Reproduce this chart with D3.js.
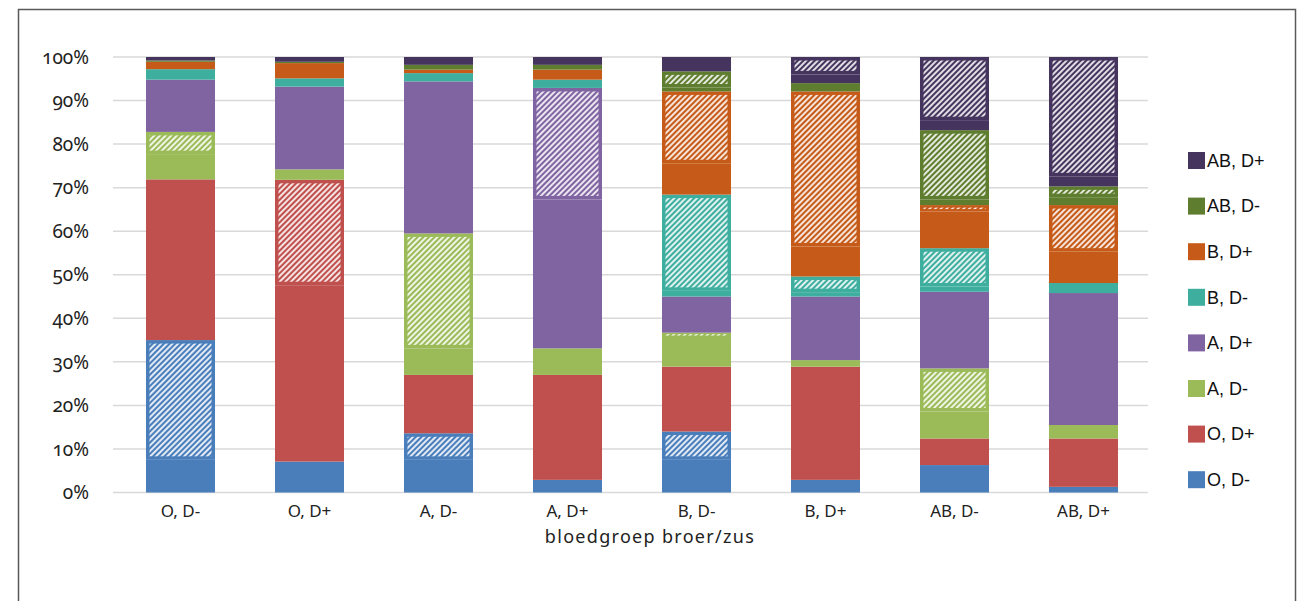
<!DOCTYPE html>
<html>
<head>
<meta charset="utf-8">
<script src="https://cdn.jsdelivr.net/npm/d3@7"></script>
<style>
  html, body { margin: 0; padding: 0; background: #fff; }
  svg { display: block; }
  .tick-label { font-family: "Noto Sans", "Open Sans", sans-serif; font-variant-numeric: oldstyle-nums; font-feature-settings: "onum" 1; fill: #222; }
  .cat-label, .axis-title { font-family: "Noto Sans", "Open Sans", sans-serif; fill: #222; }
  .legend-label { font-family: "Liberation Sans", Arial, sans-serif; fill: #111; }
</style>
</head>
<body>
<script>
// Blood group of the sibling (x axis categories)
const categories = ["O, D-", "O, D+", "A, D-", "A, D+", "B, D-", "B, D+", "AB, D-", "AB, D+"];

// Blood group series, bottom to top of each stack
const groups = ["O, D-", "O, D+", "A, D-", "A, D+", "B, D-", "B, D+", "AB, D-", "AB, D+"];
const groupColors = ["#4a7ebb", "#c0504d", "#9bbb59", "#8064a2", "#3eae9f", "#c65b19", "#5f7d2f", "#45355e"];

// Percentage per sibling category: plain part and hatched part of each group
const oNegPlain     = [7.5, 7.1, 7.5, 2.9, 7.5, 2.9, 6.3, 1.3];
const oNegHatched   = [27.5, 0, 6.1, 0, 6.5, 0, 0, 0];
const oPosPlain     = [36.9, 40.5, 13.4, 24.1, 14.9, 26.0, 6.1, 11.1];
const oPosHatched   = [0, 24.2, 0, 0, 0, 0, 0, 0];
const aNegPlain     = [5.8, 2.4, 6.1, 6.1, 6.8, 1.5, 6.2, 3.1];
const aNegHatched   = [5.1, 0, 26.4, 0, 1.0, 0, 9.9, 0];
const aPosPlain     = [12.0, 19.0, 34.9, 34.2, 8.3, 14.6, 17.6, 30.3];
const aPosHatched   = [0, 0, 0, 25.6, 0, 0, 0, 0];
const bNegPlain     = [2.4, 1.9, 1.9, 1.9, 1.3, 1.0, 1.2, 2.3];
const bNegHatched   = [0, 0, 0, 0, 22.1, 3.6, 8.8, 0];
const bPosPlain     = [1.7, 3.5, 0.8, 2.3, 7.2, 6.9, 8.4, 7.2];
const bPosHatched   = [0, 0, 0, 0, 16.5, 35.6, 1.5, 10.7];
const abNegPlain    = [0.3, 0.3, 1.1, 1.1, 0.9, 1.9, 1.3, 1.8];
const abNegHatched  = [0, 0, 0, 0, 3.7, 0, 15.9, 2.5];
const abPosPlain    = [0.8, 1.1, 1.8, 1.8, 3.3, 2.0, 2.3, 2.3];
const abPosHatched  = [0, 0, 0, 0, 0, 4.0, 14.5, 27.4];

const yTicks = [0, 10, 20, 30, 40, 50, 60, 70, 80, 90, 100];

const plainParts = [oNegPlain, oPosPlain, aNegPlain, aPosPlain, bNegPlain, bPosPlain, abNegPlain, abPosPlain];
const hatchedParts = [oNegHatched, oPosHatched, aNegHatched, aPosHatched, bNegHatched, bPosHatched, abNegHatched, abPosHatched];

const W = 1313, H = 601;
const svg = d3.select("body").append("svg").attr("width", W).attr("height", H);

// Outer frame
svg.append("rect")
  .attr("x", 18.5).attr("y", 9.5).attr("width", 1277).attr("height", 700)
  .attr("fill", "none").attr("stroke", "#5a5a5a").attr("stroke-width", 1.5);

// Diagonal stripe patterns, one per group colour
const defs = svg.append("defs");
const period = 4.0, stripe = 1.9;
groupColors.forEach((c, i) => {
  const p = defs.append("pattern")
    .attr("id", "hatch" + i)
    .attr("patternUnits", "userSpaceOnUse")
    .attr("width", period).attr("height", period)
    .attr("patternTransform", "rotate(45)");
  p.append("rect").attr("width", period).attr("height", period).attr("fill", c);
  p.append("rect").attr("width", stripe).attr("height", period).attr("fill", "#fff").attr("opacity", 0.88);
});

// Scales
const x = d3.scaleBand().domain(categories).range([116, 1148]).paddingInner(0.465).paddingOuter(0.2325);
const y = d3.scaleLinear().domain([0, 100]).range([492.5, 57]);

// Gridlines
svg.append("g").selectAll("line").data(yTicks).join("line")
  .attr("x1", 113).attr("x2", 1148)
  .attr("y1", d => y(d)).attr("y2", d => y(d))
  .attr("stroke", "#d9d9d9").attr("stroke-width", 1.5);

// Y tick labels
svg.append("g").selectAll("text").data(yTicks).join("text")
  .attr("class", "tick-label")
  .attr("x", 89).attr("y", d => y(d))
  .attr("dy", "0.35em")
  .attr("text-anchor", "end")
  .attr("font-size", 19)
  .text(d => d + "%");

// Stack data: each group contributes a plain key then a hatched key
const keys = [];
groups.forEach((g, gi) => { keys.push({ g: gi, hatched: false }); keys.push({ g: gi, hatched: true }); });
const rows = categories.map((cat, ci) => {
  const r = { category: cat };
  keys.forEach((k, ki) => { r[ki] = (k.hatched ? hatchedParts : plainParts)[k.g][ci]; });
  return r;
});
const stacked = d3.stack().keys(keys.map((k, ki) => ki))(rows);

const bars = svg.append("g");
stacked.forEach((layer, li) => {
  const k = keys[li];
  const color = groupColors[k.g];
  layer.forEach(d => {
    const h = y(d[0]) - y(d[1]);
    if (h <= 0) return;
    const bx = x(d.data.category), bw = x.bandwidth();
    bars.append("rect")
      .attr("x", bx).attr("y", y(d[1]))
      .attr("width", bw).attr("height", h)
      .attr("fill", color);
    if (k.hatched) {
      const inset = 3.5;
      const ih = Math.max(h - 2 * inset, 1.5);
      bars.append("rect")
        .attr("x", bx + inset).attr("y", y(d[1]) + Math.min(inset, (h - ih) / 2))
        .attr("width", bw - 2 * inset).attr("height", ih)
        .attr("fill", "url(#hatch" + k.g + ")");
    }
  });
});

// Category labels
svg.append("g").selectAll("text").data(categories).join("text")
  .attr("class", "cat-label")
  .attr("x", d => x(d) + x.bandwidth() / 2)
  .attr("y", 517)
  .attr("text-anchor", "middle")
  .attr("font-size", 17)
  .text(d => d);

// Axis title
svg.append("text")
  .attr("class", "axis-title")
  .attr("x", 650)
  .attr("y", 542.5)
  .attr("text-anchor", "middle")
  .attr("font-size", 18)
  .attr("letter-spacing", 1.3)
  .text("bloedgroep broer/zus");

// Legend, top entry is the last group
const legendGroups = groups.map((g, i) => ({ g, i })).reverse();
const lg = svg.append("g").selectAll("g").data(legendGroups).join("g")
  .attr("transform", (d, j) => `translate(1188, ${152 + j * 45.6})`);
lg.append("rect").attr("width", 17).attr("height", 17).attr("fill", d => groupColors[d.i]);
lg.append("text")
  .attr("class", "legend-label")
  .attr("x", 19).attr("y", 8.5).attr("dy", "0.35em")
  .attr("font-size", 18)
  .text(d => d.g);
</script>
</body>
</html>
